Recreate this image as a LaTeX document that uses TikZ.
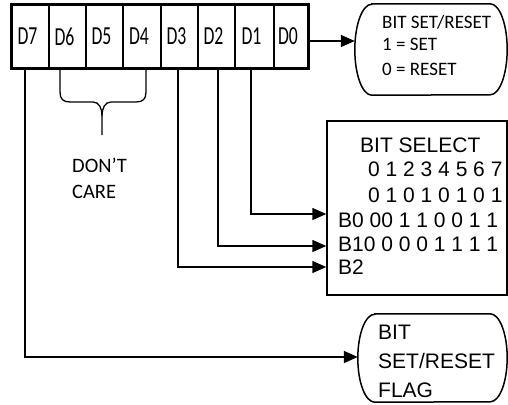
\documentclass[tikz,border=0pt]{standalone}
\usepackage{graphicx}
\usepackage{fontspec}
\setmainfont{Liberation Sans}
\newfontfamily\calfont{Carlito}
\usetikzlibrary{arrows.meta}
\newcommand\capsuleshape[2]{%
  \draw[line width=1.5pt] ([xshift=17pt]#1.north west) -- ([xshift=-17pt]#1.north east)
    arc[start angle=90,end angle=-90,x radius=17pt,y radius=#2]
    -- ([xshift=17pt]#1.south west)
    arc[start angle=270,end angle=90,x radius=17pt,y radius=#2] -- cycle;}
\newcommand\celltext[1]{\hspace*{-6pt}\scalebox{0.68}[1]{#1}}
\begin{document}
\begin{tikzpicture}[x=1pt,y=-1pt,
  arr/.style={-{Triangle[length=14pt,width=12pt]}, line width=1.6pt},
  cell/.style={draw, line width=1.2pt, minimum height=63pt, inner sep=0pt,
    font=\calfont\fontsize{26}{30}\selectfont},
  txt/.style={anchor=base west, inner sep=0pt, font=\fontsize{21}{25}\selectfont},
  ctxt/.style={anchor=base west, inner sep=0pt, font=\calfont\fontsize{19}{23}\selectfont},
  dtxt/.style={anchor=base west, inner sep=0pt, font=\calfont\fontsize{20.5}{24}\selectfont},
  holder/.style={minimum width=#1, inner sep=0pt}
]
\useasboundingbox (0,0) rectangle (508,404);

% register cells
\node[cell, minimum width=37pt] (d7) at (30.5,36.5) {\celltext{D7}};
\node[cell, minimum width=37pt] (d6) at (67.5,36.5) {\celltext{D6}};
\node[cell, minimum width=37pt] (d5) at (104.5,36.5) {\celltext{D5}};
\node[cell, minimum width=38pt] (d4) at (142,36.5) {\celltext{D4}};
\node[cell, minimum width=37pt] (d3) at (179.5,36.5) {\celltext{D3}};
\node[cell, minimum width=37pt] (d2) at (216.5,36.5) {\celltext{D2}};
\node[cell, minimum width=39pt] (d1) at (254.5,36.5) {\celltext{D1}};
\node[cell, minimum width=34pt] (d0) at (291,36.5) {\celltext{D0}};
\draw[line width=3.5pt] (d7.north west) rectangle (d0.south east);

% brace
\draw[line width=1.3pt] (60,68) -- (60,92) .. controls (60,99) and (63,102) .. (70,102)
  -- (93,102) .. controls (99,102) and (102,108) .. (102,116) -- (102,135);
\draw[line width=1.3pt] (146,68) -- (146,92) .. controls (146,99) and (143,102) .. (136,102)
  -- (111,102) .. controls (105,102) and (102,108) .. (102,116);
\node[dtxt] (dc1) at (72,172) {DON’T};
\node[dtxt] (dc2) at (72,198) {CARE};

% bit set/reset box
\node[holder=152pt, minimum height=91pt] (sr) at (431,49.5) {};
\capsuleshape{sr}{45.5pt}
\node[ctxt] (sr1) at (382,29) {BIT SET/RESET};
\node[ctxt] (sr2) at (382,50) {1 = SET};
\node[ctxt] (sr3) at (382,75) {0 = RESET};

% bit select box
\node[draw, line width=1.5pt, minimum width=180pt, minimum height=174pt, inner sep=0pt] (bs) at (417,208) {};
\node[txt] (bst) at (360,152) {BIT SELECT};
\node[txt] (row1) at (368,176) {0 1 2 3 4 5 6 7};
\node[txt] (row2) at (368,202) {0 1 0 1 0 1 0 1};
\node[txt] (row3) at (338,227) {B0 00 1 1 0 0 1 1};
\node[txt] (row4) at (338,251) {B10 0 0 0 1 1 1 1};
\node[txt] (row5) at (338,274) {B2};

% flag box
\node[holder=149pt, minimum height=88pt] (flag) at (432.5,358) {};
\capsuleshape{flag}{44pt}
\node[txt] (fl1) at (378,339) {BIT};
\node[txt] (fl2) at (378,368) {SET/RESET};
\node[txt] (fl3) at (378,397) {FLAG};

% connectors
\draw[arr] ([yshift=-4.5pt]d0.east) -- ([yshift=8.5pt]sr.west);
\draw[arr] ([xshift=-3.5pt]d1.south) |- ([yshift=-6pt]bs.west);
\draw[arr] ([xshift=1.5pt]d2.south) |- ([yshift=-38pt]bs.west);
\draw[arr] ([xshift=-1.5pt]d3.south) |- ([yshift=-59pt]bs.west);
\draw[arr] ([xshift=-5.5pt]d7.south) |- ([yshift=1pt]flag.west);
\end{tikzpicture}
\end{document}
